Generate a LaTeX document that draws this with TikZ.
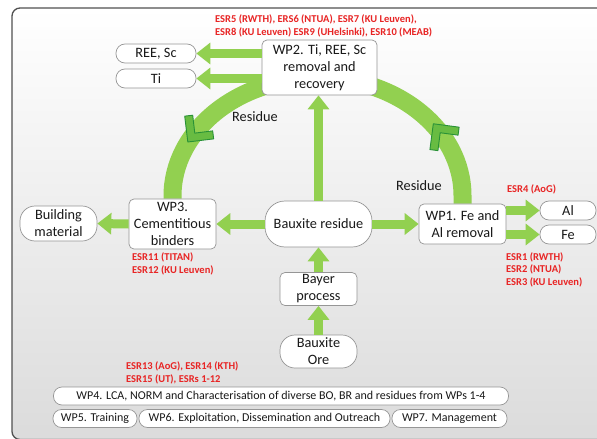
\documentclass[tikz,border=0pt]{standalone}
\usepackage{fontspec}
\setmainfont{Carlito}
\usetikzlibrary{arrows.meta,decorations.markings}
\definecolor{gr}{RGB}{146,208,80}
\definecolor{chevf}{RGB}{104,188,66}
\definecolor{chevd}{RGB}{40,145,55}
\definecolor{esrred}{RGB}{232,36,36}
\definecolor{txt}{RGB}{25,25,25}
\definecolor{bdr}{RGB}{150,150,150}
\definecolor{framec}{RGB}{80,80,80}
\pgfdeclarelayer{back}
\pgfdeclarelayer{mid}
\pgfsetlayers{back,mid,main}
\begin{document}
\begin{tikzpicture}[x=1pt,y=-1pt,
  every node/.style={text=txt, font=\fontsize{14.3}{17}\selectfont},
  box/.style={draw=bdr, fill=white, line width=0.7pt, rounded corners=5pt, align=center, inner sep=0pt},
  pillbox/.style={box, rounded corners=#1},
  esr/.style={text=esrred, font=\fontsize{10.5}{12.5}\selectfont\bfseries, anchor=base west, inner sep=0pt},
  lbl/.style={inner sep=0pt},
  garrow/.style={draw=gr, line width=9pt, -{Triangle[length=14pt,width=21pt]}},
  arcline/.style={draw=gr, line width=18pt},
  chev/.style={fill=chevf, draw=chevd, line width=0.9pt, line join=round}
]
\useasboundingbox (0,0) rectangle (597,439);
\begin{pgfonlayer}{back}
  \clip (0,0) rectangle (597,439);
  \draw[draw=framec, line width=1.3pt, rounded corners=8pt, top color=white, bottom color=black!14]
    (12,8) rectangle (630,439.5);
\end{pgfonlayer}

% nodes
\node[box, minimum width=115pt, minimum height=55pt] (wp2) at (319.5,67.5) {WP2. Ti, REE, Sc\\removal and\\recovery};
\node[pillbox=9pt, minimum width=80pt, minimum height=19pt] (ree) at (156,53.5) {REE, Sc};
\node[pillbox=9pt, minimum width=80pt, minimum height=19pt] (ti) at (156,78.5) {Ti};
\node[box, minimum width=87pt, minimum height=50pt] (wp3) at (172.5,224) {WP3.\\Cementitious\\binders};
\node[pillbox=15pt, minimum width=77pt, minimum height=35pt] (bm) at (58.5,223.5) {Building\\material};
\node[pillbox=20pt, minimum width=107pt, minimum height=46pt] (br) at (318.5,224) {Bauxite residue};
\node[box, minimum width=87pt, minimum height=40pt] (wp1) at (462.5,224) {WP1. Fe and\\Al removal};
\node[pillbox=9pt, minimum width=56pt, minimum height=19pt] (al) at (568,210.5) {Al};
\node[pillbox=9pt, minimum width=56pt, minimum height=19pt] (fe) at (568,234.5) {Fe};
\node[box, minimum width=77pt, minimum height=33pt] (bayer) at (318.5,289) {Bayer\\process};
\node[pillbox=15pt, minimum width=77pt, minimum height=33pt] (ore) at (318.5,351.5) {Bauxite\\Ore};

\node[pillbox=8.5pt, minimum width=455pt, minimum height=18pt, font=\fontsize{12}{14}\selectfont] (wp4) at (281,396) {WP4. LCA, NORM and Characterisation of diverse BO, BR and residues from WPs 1-4};
\node[pillbox=8.5pt, minimum width=84pt, minimum height=18pt, font=\fontsize{12}{14}\selectfont] (wp5) at (95,418.5) {WP5. Training};
\node[pillbox=8.5pt, minimum width=251pt, minimum height=18pt, font=\fontsize{12}{14}\selectfont] (wp6) at (264.5,418.5) {WP6. Exploitation, Dissemination and Outreach};
\node[pillbox=8.5pt, minimum width=115pt, minimum height=18pt, font=\fontsize{12}{14}\selectfont] (wp7) at (449.5,418.5) {WP7. Management};

% labels
\node[lbl] (res1) at (255,117) {Residue};
\node[lbl] (res2) at (419,186) {Residue};

\node[esr] (e5) at (215,22.5) {ESR5 (RWTH), ERS6 (NTUA), ESR7 (KU Leuven),};
\node[esr] (e8) at (215,35) {ESR8 (KU Leuven) ESR9 (UHelsinki), ESR10 (MEAB)};
\node[esr] (e4) at (507,192.5) {ESR4 (AoG)};
\node[esr] (e1) at (506,260) {ESR1 (RWTH)};
\node[esr] (e2) at (506,272.5) {ESR2 (NTUA)};
\node[esr] (e3) at (506,285) {ESR3 (KU Leuven)};
\node[esr] (e11) at (132,260.5) {ESR11 (TITAN)};
\node[esr] (e12) at (132,273) {ESR12 (KU Leuven)};
\node[esr] (e13) at (126,369.5) {ESR13 (AoG), ESR14 (KTH)};
\node[esr] (e15) at (126,382) {ESR15 (UT), ESRs 1-12};

% residue arcs
\coordinate (top) at (317.5,78);
\begin{pgfonlayer}{mid}
\draw[arcline, postaction={decorate}, decoration={markings, mark=at position 0.35 with {\draw[chev] (12,0) -- (-6.4,18.4) -- (-12.1,12.7) -- (0.7,0) -- (-12.1,-12.7) -- (-6.4,-18.4) -- cycle;}}]
  (wp1.north) -- ++(0,-8) arc[start angle=0, end angle=-90, x radius=145, y radius=118];
\draw[arcline, postaction={decorate}, decoration={markings, mark=at position 0.66 with {\draw[chev] (12,0) -- (-6.4,18.4) -- (-12.1,12.7) -- (0.7,0) -- (-12.1,-12.7) -- (-6.4,-18.4) -- cycle;}}]
  (top) arc[start angle=-90, end angle=-180, x radius=145, y radius=118] -- (wp3.north);
\end{pgfonlayer}

% arrows
\draw[garrow] (wp2.west |- ree) -- (ree.east);
\draw[garrow] (wp2.west |- ti) -- (ti.east);
\draw[garrow] (br.north) -- (br.north |- wp2.south);
\draw[garrow] (br.west) -- (wp3.east);
\draw[garrow] (wp3.west) -- (bm.east);
\draw[garrow] (br.east) -- (wp1.west);
\draw[garrow] (wp1.east |- al) -- (al.west);
\draw[garrow] (wp1.east |- fe) -- (fe.west);
\draw[garrow] (bayer.north) -- (br.south);
\draw[garrow] (ore.north) -- (bayer.south);
\end{tikzpicture}
\end{document}
